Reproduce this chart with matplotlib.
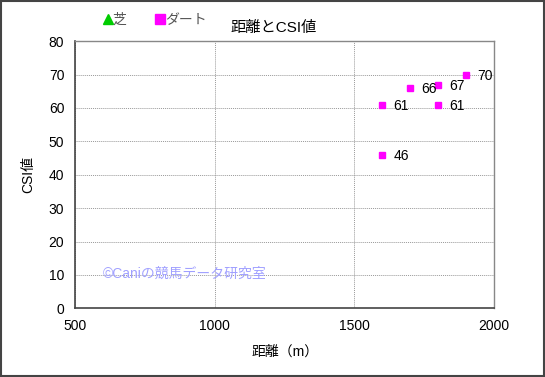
import matplotlib
matplotlib.use("Agg")
import matplotlib.pyplot as plt

plt.rcParams['font.family'] = ['Liberation Sans', 'Noto Sans CJK JP', 'DejaVu Sans']

# data
turf_dist = []
turf_csi = []
dirt_dist = [1600, 1600, 1700, 1800, 1800, 1900]
dirt_csi = [61, 46, 66, 67, 61, 70]

x_ticks = [500, 1000, 1500, 2000]
y_ticks = [0, 10, 20, 30, 40, 50, 60, 70, 80]

fig = plt.figure(figsize=(5.45, 3.77), dpi=100)
ax = fig.add_axes([0.1385, 0.182, 0.7675, 0.709])

ax.plot(turf_dist, turf_csi, linestyle='none', marker='^', color='#00cc00',
        markersize=5, label='芝')
ax.plot(dirt_dist, dirt_csi, linestyle='none', marker='s', color='#ff00ff',
        markersize=5, label='ダート')

for x, y in zip(dirt_dist, dirt_csi):
    ax.annotate(str(y), (x, y), xytext=(8, -4), textcoords='offset points',
                fontsize=10, color='black')

ax.set_xlim(500, 2000)
ax.set_ylim(0, 80)
ax.set_xticks(x_ticks)
ax.set_yticks(y_ticks)
ax.tick_params(length=0, labelsize=10, pad=8)
ax.grid(True, color='#999999', linestyle=(0, (1, 1)), linewidth=0.7)

for side in ['left', 'bottom']:
    ax.spines[side].set_color('#444444')
    ax.spines[side].set_linewidth(1.2)
for side in ['top', 'right']:
    ax.spines[side].set_color('#888888')
    ax.spines[side].set_linewidth(1.0)

ax.set_xlabel('距離（m）', fontsize=10, labelpad=8)
ax.set_ylabel('CSI値', fontsize=10, labelpad=10)

ax.text(0.065, 0.13, '©Caniの競馬データ研究室', transform=ax.transAxes,
        fontsize=10, color='#a0a0ff', va='center')

fig.text(0.503, 0.926, '距離とCSI値', ha='center', va='center', fontsize=11)

leg = fig.legend(loc='center left', bbox_to_anchor=(0.168, 0.948), ncol=2, frameon=False,
                 fontsize=10, handlelength=0.5, handletextpad=0.1, columnspacing=2.2,
                 markerscale=1.3)
for t in leg.get_texts():
    t.set_color('#555555')

fig.patches.append(plt.Rectangle((0.002, 0.003), 0.996, 0.994, transform=fig.transFigure,
                                 fill=False, edgecolor='#444444', linewidth=1.5))

fig.savefig('out.png', dpi=100)
